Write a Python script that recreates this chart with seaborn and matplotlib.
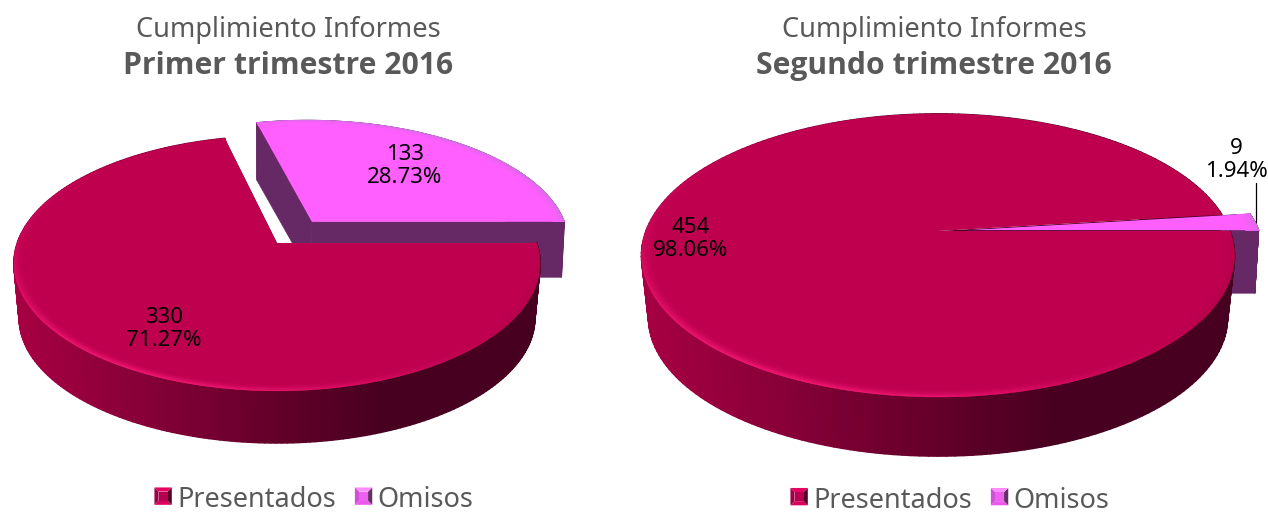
import matplotlib
matplotlib.use('Agg')
import matplotlib.pyplot as plt
import numpy as np
import seaborn as sns
from matplotlib.collections import PolyCollection
from matplotlib.colors import to_rgb
from matplotlib.legend_handler import HandlerBase
from matplotlib.patches import Patch, Polygon

# Data
categories = ['Presentados', 'Omisos']
periodos = ['Primer trimestre 2016', 'Segundo trimestre 2016']
valores_t1 = [330, 133]
valores_t2 = [454, 9]
explode_t1 = [0, 0.2236]
explode_t2 = [0, 0.1]

sns.set_theme(style='white')
plt.rcParams['font.family'] = ['Noto Sans', 'DejaVu Sans']

W, H = 1268, 512
GRIS = '#595959'
colores = sns.color_palette(['#BE004F', '#FF5FFF'])
lado_omisos = '#662966'
lado_present = sns.blend_palette(['#A60042', '#480020'], 64)


def tilt(u, v, k):
    # perspective of the flat disc, far side smaller
    w = 1 + k * v
    return u / w, v / w


def arc(wedge, r=None, n=240):
    r = wedge.r if r is None else r
    t = np.radians(np.linspace(wedge.theta1, wedge.theta2, n))
    return wedge.center[0] + r * np.cos(t), wedge.center[1] + r * np.sin(t), t


def quads(x0, y0, x1, y1):
    q = np.empty((len(x0) - 1, 4, 2))
    q[:, 0] = np.c_[x0[:-1], y0[:-1]]
    q[:, 1] = np.c_[x0[1:], y0[1:]]
    q[:, 2] = np.c_[x1[1:], y1[1:]]
    q[:, 3] = np.c_[x1[:-1], y1[:-1]]
    return q


def mezcla(a, b, f):
    a, b = np.array(to_rgb(a)), np.array(to_rgb(b))
    return a + (b - a) * f


def borde(ax, wedge, k, base, claro, oscuro, z, lejos=False, ancho=0.045, pasos=8):
    # bevel along the rim of the top face
    for i in range(pasos):
        r0 = wedge.r - ancho * i / pasos
        r1 = wedge.r - ancho * (i + 1) / pasos
        u0, v0, t = arc(wedge, r0)
        u1, v1, _ = arc(wedge, r1)
        x0, y0 = tilt(u0, v0, k)
        x1, y1 = tilt(u1, v1, k)
        tt = t[:-1]
        luz = np.cos(tt - np.radians(225))
        cerca = np.clip(-np.sin(tt), 0, 1)
        f = np.abs(luz) * (1 - i / pasos) ** 2
        if not lejos:
            f = f * np.where(luz > 0, 0.35 + 0.65 * cerca, cerca)
        cols = [mezcla(base, claro if l > 0 else oscuro, a) for l, a in zip(luz, f)]
        ax.add_collection(PolyCollection(quads(x0, y0, x1, y1), facecolors=cols,
                                         edgecolors=cols, linewidths=0.3, zorder=z))


def pastel(ax, valores, explode, k, sx, sy, apex, prof, esc):
    wedges, _, autotexts = ax.pie(
        valores, explode=explode, colors=colores, startangle=0, counterclock=False,
        autopct=lambda p: f'{p * sum(valores) / 100:.0f}\n{p:.2f}%',
        textprops={'fontsize': 16, 'color': 'black', 'linespacing': 1.15})
    ax.set_aspect('auto')
    ax.set_xlim(-apex[0] / sx, (W / 2 - apex[0]) / sx)
    ax.set_ylim(-(H - apex[1]) / sy, apex[1] / sy)
    baja = prof / sy

    main, omi = wedges
    # bottom edge follows the same perspective, a bit smaller
    u, v, _ = arc(main)
    x, y = tilt(u, v, k)
    izq, der = x.min(), x.max()
    t = np.clip((x[:-1] - izq) / ((der - izq) * 0.69), 0, 1)
    cols = [lado_present[int(i * 63)] for i in t]
    ax.add_collection(PolyCollection(quads(x, y, x * esc, y * esc - baja), facecolors=cols,
                                     edgecolors=cols, linewidths=1.2, zorder=2))
    # cut faces of the big slice, only seen through the gap
    xc, yc = tilt(np.r_[u[0], 0], np.r_[v[0], 0], k)
    ax.add_collection(PolyCollection(quads(xc, yc, xc * esc, yc * esc - baja),
                                     facecolors=lado_present[-1], edgecolors='none', zorder=2))

    u, v, _ = arc(omi)
    cu, cv = omi.center
    u = np.r_[cu, u, cu]
    v = np.r_[cv, v, cv]
    x2, y2 = tilt(u, v, k)
    esc_o = (1 + esc) / 2
    ax.add_collection(PolyCollection(quads(x2, y2, x2 * esc_o, y2 * esc - baja),
                                     facecolors=lado_omisos, edgecolors=lado_omisos,
                                     linewidths=0.5, zorder=1))

    # top faces
    for w, z in ((main, 3), (omi, 5)):
        u, v, _ = arc(w)
        cu, cv = w.center
        xf, yf = tilt(np.r_[cu, u], np.r_[cv, v], k)
        ax.add_patch(Polygon(np.c_[xf, yf], closed=True, facecolor=w.get_facecolor(),
                             edgecolor='none', zorder=z))
        w.set_visible(False)
    borde(ax, main, k, colores[0], '#FA1C78', '#8A003C', 4)
    borde(ax, omi, k, colores[1], '#FF9CFF', '#D070E0', 6, lejos=True)
    return autotexts


class CuadroBisel(HandlerBase):
    tonos = {'#BE004F': ('#E2045F', '#A00044', '#560026', '#D8045A', '#B80050'),
             '#FF5FFF': ('#FF8CFF', '#D050D8', '#663066', '#EC58EC', '#F060F0')}

    def create_artists(self, legend, orig_handle, xdescent, ydescent, width, height,
                       fontsize, trans):
        c = matplotlib.colors.to_hex(orig_handle.get_facecolor()).upper()
        arriba, izq, der, abajo, centro = self.tonos[c]
        s = 12.5
        x0, y0 = width - s, (height - s) / 2 + 1
        m = 3.0
        ext = [(x0, y0), (x0 + s, y0), (x0 + s, y0 + s), (x0, y0 + s)]
        inte = [(x0 + m, y0 + m), (x0 + s - m, y0 + m), (x0 + s - m, y0 + s - m), (x0 + m, y0 + s - m)]
        lados = [(0, abajo), (1, der), (2, arriba), (3, izq)]
        arts = []
        for i, col in lados:
            j = (i + 1) % 4
            arts.append(Polygon([ext[i], ext[j], inte[j], inte[i]], closed=True, facecolor=col,
                                edgecolor='none', transform=trans))
        arts.append(Polygon(inte, closed=True, facecolor=centro, edgecolor='none', transform=trans))
        return arts


fig = plt.figure(figsize=(W / 100, H / 100), dpi=100)
ax1 = fig.add_axes([0, 0, 0.5, 1])
ax2 = fig.add_axes([0.5, 0, 0.5, 1])

txt1 = pastel(ax1, valores_t1, explode_t1, 0.16, 259.6, 124.2, (277, 243), 55, 0.98)
txt2 = pastel(ax2, valores_t2, explode_t2, 0.173, 292, 137.3, (938 - W / 2, 231), 63, 0.976)

# value labels, placed by hand like in the source
pos_labels = [(txt1[0], ax1, 164, 329), (txt1[1], ax1, 405, 166),
              (txt2[0], ax2, 691 - W / 2, 239), (txt2[1], ax2, 1236 - W / 2, 160)]
for t, ax, px, py in pos_labels:
    t.set_transform(ax.transAxes)
    t.set_position((px / (W / 2), 1 - py / H))
    t.set_ha('center')
    t.set_va('center')
    t.set_zorder(8)

ax2.plot([(1256 - W / 2) / (W / 2)] * 2, [1 - 183 / H, 1 - 222 / H], color='black', lw=0.9,
         transform=ax2.transAxes, zorder=8)

# titles
for ax, per, cx in ((ax1, periodos[0], 288), (ax2, periodos[1], 934 - W / 2)):
    ax.text(cx / (W / 2), 1 - 30 / H, 'Cumplimiento Informes', transform=ax.transAxes, ha='center',
            va='center', fontsize=19.6, color=GRIS)
    ax.text(cx / (W / 2), 1 - 66 / H, per, transform=ax.transAxes, ha='center', va='center',
            fontsize=21.7, fontweight='bold', color=GRIS, family='Open Sans')

# legends
handles = [Patch(facecolor=c, label=n) for c, n in zip(['#BE004F', '#FF5FFF'], categories)]
for ax, cx, cy in ((ax1, 314, 500), (ax2, 950 - W / 2, 500.5)):
    ax.legend(handles=handles, ncol=2, loc='center', frameon=False,
              bbox_to_anchor=(cx / (W / 2), 1 - cy / H), fontsize=19.5, labelcolor=GRIS,
              handler_map={Patch: CuadroBisel()}, handlelength=0.64, handletextpad=0.2,
              columnspacing=0.7, borderpad=0)

fig.savefig('out.png', dpi=100, facecolor='white')
